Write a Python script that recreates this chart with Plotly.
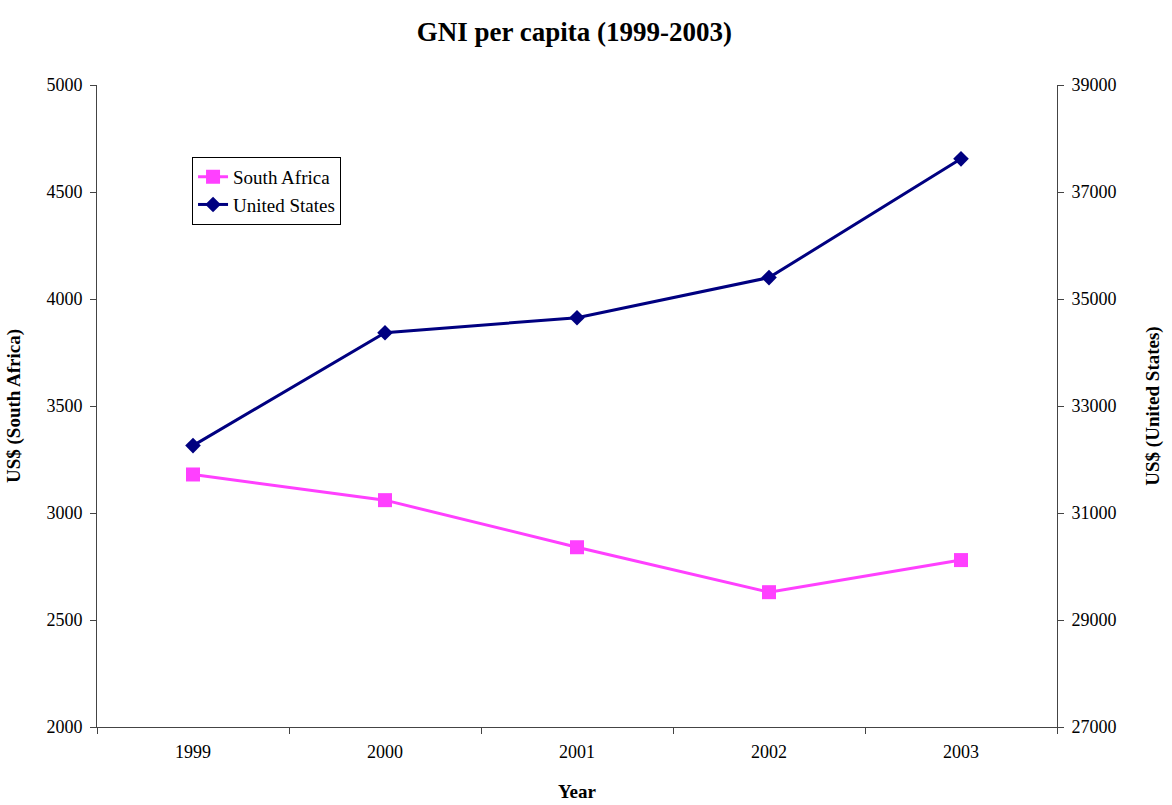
import plotly.graph_objects as go

years = ["1999", "2000", "2001", "2002", "2003"]
south_africa = [3180, 3060, 2840, 2630, 2780]
united_states = [32260, 34370, 34650, 35400, 37620]

FONT = "Liberation Serif"

fig = go.Figure()
fig.add_trace(go.Scatter(
    x=years, y=south_africa, name="South Africa", mode="lines+markers",
    line=dict(color="#FF40FF", width=3),
    marker=dict(symbol="square", size=14, color="#FF40FF"),
    yaxis="y"))
fig.add_trace(go.Scatter(
    x=years, y=united_states, name="United States", mode="lines+markers",
    line=dict(color="#000080", width=3),
    marker=dict(symbol="diamond", size=12, color="#000080"),
    yaxis="y2"))

axis_common = dict(showgrid=False, zeroline=False, showline=True, linecolor="#444",
                   linewidth=1, ticks="outside", ticklen=6, tickcolor="#444",
                   automargin=False,
                   tickfont=dict(family=FONT, size=18, color="black"))

fig.update_layout(
    width=1172, height=805,
    margin=dict(l=97, r=115, t=85, b=78),
    plot_bgcolor="white", paper_bgcolor="white",
    title=dict(text="<b>GNI per capita (1999-2003)</b>", x=0.49, xanchor="center",
               y=0.972, yanchor="top", font=dict(family=FONT, size=27, color="black")),
    xaxis=dict(type="category", tickson="boundaries", range=[-0.5, 4.5],
               ticklabelstandoff=8,
               title=dict(text="<b>Year</b>", font=dict(family=FONT, size=19, color="black"),
                          standoff=24),
               **axis_common),
    yaxis=dict(range=[2000, 5000], dtick=500, tickformat="d", ticklabelstandoff=4,
               title=dict(text="<b>US$ (South Africa)</b>", font=dict(family=FONT, size=19, color="black"),
                          standoff=20),
               **axis_common),
    yaxis2=dict(range=[27000, 39000], tick0=27000, dtick=2000, tickformat="d",
                overlaying="y", side="right", ticklabelstandoff=4,
                title=dict(text="<b>US$ (United States)</b>", font=dict(family=FONT, size=19, color="black"),
                           standoff=30),
                **axis_common),
    legend=dict(x=0.099, y=0.888, xanchor="left", yanchor="top",
                bordercolor="black", borderwidth=1, bgcolor="white",
                font=dict(family=FONT, size=19, color="black"),
                tracegroupgap=0, itemwidth=30),
    showlegend=True,
)

fig.write_html("out.html")
